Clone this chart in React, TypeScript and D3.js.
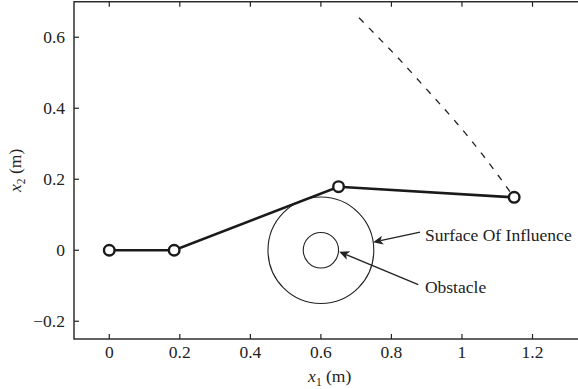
import { useEffect, useRef } from "react";
import * as d3 from "d3";

// arm joints (x1, x2) in metres
const jointX = [0, 0.184, 0.65, 1.148];
const jointY = [0, 0, 0.179, 0.149];

// end effector path (dashed)
const pathX = [0.708, 0.77, 0.83, 0.9, 0.975, 1.06, 1.148];
const pathY = [0.655, 0.592, 0.53, 0.453, 0.37, 0.267, 0.149];

// obstacle
const obstacleCenter = [0.6, 0];
const obstacleRadius = 0.05;
const influenceRadius = 0.15;

const xTicks = [0, 0.2, 0.4, 0.6, 0.8, 1, 1.2];
const yTicks = [-0.2, 0, 0.2, 0.4, 0.6];

// annotation arrows: [textX, textY, tailX, tailY, tipX, tipY, label]
const notes: [number, number, number, number, number, number, string][] = [
  [0.895, 0.027, 0.881, 0.051, 0.748, 0.0225, "Surface Of Influence"],
  [0.895, -0.121, 0.876, -0.097, 0.652, -0.004, "Obstacle"],
];

const W = 578;
const H = 389;
const FONT = "'Liberation Serif', 'Times New Roman', serif";
const FS = 17.5;

function ArmPlot() {
  const svgRef = useRef<SVGSVGElement | null>(null);

  useEffect(() => {
    const svg = d3.select(svgRef.current);
    svg.selectAll("*").remove();

    const x = d3.scaleLinear().domain([-0.1, 1.35]).range([74, 74 + 1.45 * 352.7]);
    const y = d3.scaleLinear().domain([-0.25, 0.7]).range([339, 339 - 0.95 * 355]);
    const [x0, x1] = x.range();
    const [y0, y1] = y.range();

    const g = svg.append("g");

    // frame
    g.append("rect")
      .attr("x", x0)
      .attr("y", y1)
      .attr("width", x1 - x0)
      .attr("height", y0 - y1)
      .attr("fill", "none")
      .attr("stroke", "#222")
      .attr("stroke-width", 1.4);

    // ticks, inward
    xTicks.forEach(t => {
      g.append("line").attr("x1", x(t)).attr("x2", x(t)).attr("y1", y0).attr("y2", y0 - 5)
        .attr("stroke", "#222").attr("stroke-width", 1.2);
      g.append("line").attr("x1", x(t)).attr("x2", x(t)).attr("y1", y1).attr("y2", y1 + 5)
        .attr("stroke", "#222").attr("stroke-width", 1.2);
      g.append("text")
        .attr("x", x(t))
        .attr("y", y0 + 18.5)
        .attr("text-anchor", "middle")
        .attr("font-family", FONT)
        .attr("font-size", FS)
        .attr("fill", "#222")
        .text(d3.format("~g")(t));
    });
    yTicks.forEach(t => {
      g.append("line").attr("x1", x0).attr("x2", x0 + 5).attr("y1", y(t)).attr("y2", y(t))
        .attr("stroke", "#222").attr("stroke-width", 1.2);
      g.append("line").attr("x1", x1).attr("x2", x1 - 5).attr("y1", y(t)).attr("y2", y(t))
        .attr("stroke", "#222").attr("stroke-width", 1.2);
      g.append("text")
        .attr("x", x0 - 9)
        .attr("y", y(t) + 6)
        .attr("text-anchor", "end")
        .attr("font-family", FONT)
        .attr("font-size", FS)
        .attr("fill", "#222")
        .text(t < 0 ? "\u2212" + d3.format("~g")(-t) : d3.format("~g")(t));
    });

    // axis labels
    const xl = g.append("text")
      .attr("x", (x0 + x1) / 2)
      .attr("y", 382)
      .attr("text-anchor", "middle")
      .attr("font-family", FONT)
      .attr("font-size", FS)
      .attr("fill", "#222");
    xl.append("tspan").attr("font-style", "italic").text("x");
    xl.append("tspan").attr("font-size", 11.5).attr("dy", 4).text("1");
    xl.append("tspan").attr("dy", -4).text(" (m)");

    const yl = g.append("text")
      .attr("transform", `translate(21,${(y0 + y1) / 2}) rotate(-90)`)
      .attr("text-anchor", "middle")
      .attr("font-family", FONT)
      .attr("font-size", FS)
      .attr("fill", "#222");
    yl.append("tspan").attr("font-style", "italic").text("x");
    yl.append("tspan").attr("font-size", 11.5).attr("dy", 4).text("2");
    yl.append("tspan").attr("dy", -4).text(" (m)");

    // obstacle and surface of influence
    const cx = x(obstacleCenter[0]);
    const cy = y(obstacleCenter[1]);
    [obstacleRadius, influenceRadius].forEach(r => {
      g.append("ellipse")
        .attr("cx", cx)
        .attr("cy", cy)
        .attr("rx", x(obstacleCenter[0] + r) - cx)
        .attr("ry", cy - y(obstacleCenter[1] + r))
        .attr("fill", "none")
        .attr("stroke", "#222")
        .attr("stroke-width", 1.1);
    });

    // dashed end effector path
    const pts = pathX.map((v, i) => [v, pathY[i]] as [number, number]);
    g.append("path")
      .attr("d", d3.line<[number, number]>().x(d => x(d[0])).y(d => y(d[1])).curve(d3.curveNatural)(pts))
      .attr("fill", "none")
      .attr("stroke", "#222")
      .attr("stroke-width", 1.3)
      .attr("stroke-dasharray", "6.5,7.5");

    // links
    const joints = jointX.map((v, i) => [v, jointY[i]] as [number, number]);
    g.append("path")
      .attr("d", d3.line<[number, number]>().x(d => x(d[0])).y(d => y(d[1]))(joints))
      .attr("fill", "none")
      .attr("stroke", "#1a1a1a")
      .attr("stroke-width", 2.6);

    g.selectAll("circle.joint")
      .data(joints)
      .enter()
      .append("circle")
      .attr("class", "joint")
      .attr("cx", d => x(d[0]))
      .attr("cy", d => y(d[1]))
      .attr("r", 5.3)
      .attr("fill", "#fff")
      .attr("stroke", "#1a1a1a")
      .attr("stroke-width", 2.4);

    // annotations
    notes.forEach(([tx, ty, ax, ay, bx, by, label]) => {
      const sx = x(ax), sy = y(ay), ex = x(bx), ey = y(by);
      const ang = Math.atan2(ey - sy, ex - sx);
      const len = 10, half = 4.5, back = 7.5;
      const bxp = ex - back * Math.cos(ang), byp = ey - back * Math.sin(ang);
      g.append("line")
        .attr("x1", sx).attr("y1", sy).attr("x2", bxp).attr("y2", byp)
        .attr("stroke", "#222").attr("stroke-width", 1.3);
      const p1 = [ex - len * Math.cos(ang) - half * Math.sin(ang), ey - len * Math.sin(ang) + half * Math.cos(ang)];
      const p2 = [ex - len * Math.cos(ang) + half * Math.sin(ang), ey - len * Math.sin(ang) - half * Math.cos(ang)];
      g.append("path")
        .attr("d", `M${ex},${ey}L${p1[0]},${p1[1]}L${bxp},${byp}L${p2[0]},${p2[1]}Z`)
        .attr("fill", "#222");
      g.append("text")
        .attr("x", x(tx))
        .attr("y", y(ty))
        .attr("font-family", FONT)
        .attr("font-size", FS)
        .attr("fill", "#222")
        .text(label);
    });
  }, []);

  return (
    <svg
      ref={svgRef}
      width={W}
      height={H}
      style={{ position: "absolute", left: 0, top: 0, background: "#fff" }}
    />
  );
}

export default function App() {
  return <ArmPlot />;
}
